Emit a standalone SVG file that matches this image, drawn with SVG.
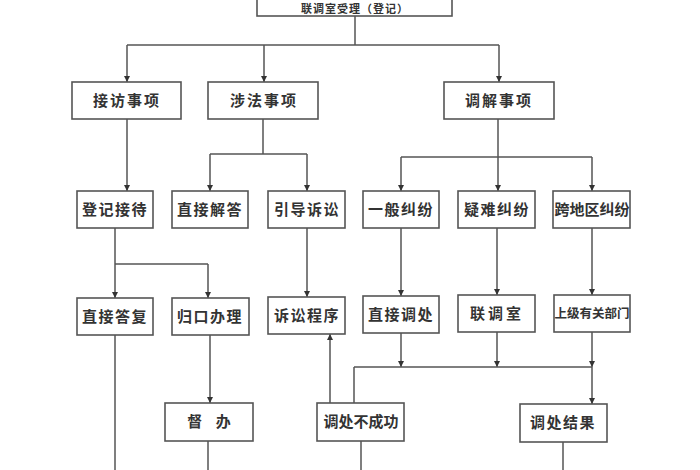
<svg xmlns="http://www.w3.org/2000/svg" width="700" height="470" viewBox="0 0 700 470">
<defs>
<marker id="arr" viewBox="0 0 10 10" refX="10" refY="5" markerWidth="6" markerHeight="6" markerUnits="userSpaceOnUse" orient="auto">
<path d="M0,0 L10,5 L0,10 z" fill="#333"/>
</marker>
<style>
.box{fill:#fff;stroke:#555;stroke-width:1.6}
.t{font-family:"Noto Sans CJK SC","Noto Sans",sans-serif;font-size:15px;font-weight:bold;fill:#333;text-anchor:middle}
.c line,.c path{stroke:#555;stroke-width:1.5;fill:none}
.a{marker-end:url(#arr)}
</style>
</defs>
<rect width="700" height="470" fill="#fff"/>
<g class="c">
<line x1="355" y1="16" x2="355" y2="45"/>
<line x1="127" y1="45" x2="499" y2="45"/>
<line class="a" x1="127" y1="45" x2="127" y2="82"/>
<line class="a" x1="264" y1="45" x2="264" y2="82"/>
<line class="a" x1="499" y1="45" x2="499" y2="82"/>
<line class="a" x1="127" y1="119" x2="127" y2="191"/>
<line x1="263" y1="119" x2="263" y2="154"/>
<line x1="210" y1="154" x2="307" y2="154"/>
<line class="a" x1="210" y1="154" x2="210" y2="191"/>
<line class="a" x1="307" y1="154" x2="307" y2="191"/>
<line x1="498" y1="119" x2="498" y2="157"/>
<line x1="401" y1="157" x2="592" y2="157"/>
<line class="a" x1="401" y1="157" x2="401" y2="191"/>
<line class="a" x1="498" y1="157" x2="498" y2="191"/>
<line class="a" x1="592" y1="157" x2="592" y2="191"/>
<line x1="115" y1="228" x2="115" y2="264"/>
<line x1="115" y1="264" x2="208" y2="264"/>
<line class="a" x1="115" y1="264" x2="115" y2="298"/>
<line class="a" x1="208" y1="264" x2="208" y2="298"/>
<line class="a" x1="307" y1="228" x2="307" y2="297"/>
<line class="a" x1="401" y1="228" x2="401" y2="296"/>
<line class="a" x1="497" y1="228" x2="497" y2="295"/>
<line class="a" x1="592" y1="228" x2="592" y2="295"/>
<line class="a" x1="401" y1="333" x2="401" y2="367"/>
<line class="a" x1="497" y1="332" x2="497" y2="367"/>
<line class="a" x1="592" y1="332" x2="592" y2="367"/>
<line x1="354" y1="367" x2="592" y2="367"/>
<line x1="354" y1="367" x2="354" y2="403"/>
<line class="a" x1="592" y1="367" x2="592" y2="404"/>
<line class="a" x1="330" y1="403" x2="330" y2="334"/>
<line x1="115" y1="335" x2="115" y2="470"/>
<line class="a" x1="210" y1="335" x2="210" y2="403"/>
<line x1="208" y1="441" x2="208" y2="470"/>
<line x1="361" y1="441" x2="361" y2="470"/>
<line x1="563" y1="442" x2="563" y2="470"/>
</g>
<g id="n-top"><rect class="box" x="257" y="-25" width="195" height="41"/><text class="t" x="355" y="13" style="font-size:11px" letter-spacing="1">联调室受理（登记）</text></g>
<g id="n-jiefang"><rect class="box" x="72" y="82" width="109" height="37"/><text class="t" x="127" y="106" letter-spacing="2">接访事项</text></g>
<g id="n-shefa"><rect class="box" x="208" y="82" width="110" height="37"/><text class="t" x="264" y="106" letter-spacing="2">涉法事项</text></g>
<g id="n-tiaojie"><rect class="box" x="444" y="82" width="110" height="37"/><text class="t" x="499" y="106" letter-spacing="2">调解事项</text></g>
<g id="n-dengji"><rect class="box" x="77" y="191" width="76" height="37"/><text class="t" x="115" y="215" letter-spacing="1.5">登记接待</text></g>
<g id="n-zhijiejieda"><rect class="box" x="172" y="191" width="76" height="37"/><text class="t" x="210" y="215" letter-spacing="1.5">直接解答</text></g>
<g id="n-yindao"><rect class="box" x="268" y="191" width="77" height="37"/><text class="t" x="307" y="215" letter-spacing="1.5">引导诉讼</text></g>
<g id="n-yiban"><rect class="box" x="363" y="191" width="76" height="37"/><text class="t" x="401" y="215" letter-spacing="1.5">一般纠纷</text></g>
<g id="n-yinan"><rect class="box" x="458" y="191" width="77" height="37"/><text class="t" x="497" y="215" letter-spacing="1.5">疑难纠纷</text></g>
<g id="n-kuadiqu"><rect class="box" x="553" y="191" width="77" height="37"/><text class="t" x="592" y="215">跨地区纠纷</text></g>
<g id="n-zhijiedafu"><rect class="box" x="77" y="298" width="76" height="37"/><text class="t" x="115" y="322" letter-spacing="1.5">直接答复</text></g>
<g id="n-guikou"><rect class="box" x="172" y="298" width="77" height="37"/><text class="t" x="210" y="322" letter-spacing="1.5">归口办理</text></g>
<g id="n-susong"><rect class="box" x="268" y="297" width="77" height="37"/><text class="t" x="307" y="321" letter-spacing="1.5">诉讼程序</text></g>
<g id="n-zhijietiaochu"><rect class="box" x="363" y="296" width="76" height="37"/><text class="t" x="401" y="320" letter-spacing="1.5">直接调处</text></g>
<g id="n-liantiaoshi"><rect class="box" x="458" y="295" width="77" height="37"/><text class="t" x="497" y="319" letter-spacing="3">联调室</text></g>
<g id="n-shangji"><rect class="box" x="554" y="295" width="76" height="37"/><text class="t" x="592" y="318" style="font-size:12.5px">上级有关部门</text></g>
<g id="n-duban"><rect class="box" x="165" y="403" width="88" height="38"/><text class="t" x="209" y="427" xml:space="preserve">督    办</text></g>
<g id="n-bucheng"><rect class="box" x="317" y="403" width="87" height="38"/><text class="t" x="361" y="427">调处不成功</text></g>
<g id="n-jieguo"><rect class="box" x="520" y="404" width="87" height="38"/><text class="t" x="563" y="428" letter-spacing="1.5">调处结果</text></g>
</svg>
